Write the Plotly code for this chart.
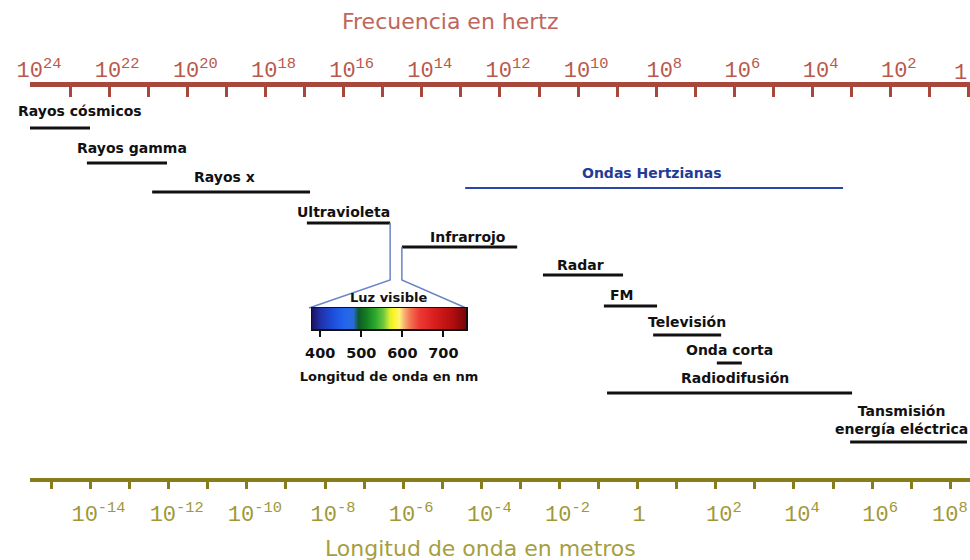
import numpy as np
import plotly.graph_objects as go

# ------------------------------------------------------------------ data
C_LIGHT = 2.998e8  # m/s

freq_tick_exp = list(range(24, -1, -1))                 # top axis: one tick per decade (Hz)
freq_label_exp = [24, 22, 20, 18, 16, 14, 12, 10, 8, 6, 4, 2, 0]
wl_tick_exp = list(range(-15, 9))                       # bottom axis: one tick per decade (m)
wl_label_exp = [-14, -12, -10, -8, -6, -4, -2, 0, 2, 4, 6, 8]

band_names = ["Rayos cósmicos", "Rayos gamma", "Rayos x", "Ultravioleta", "Infrarrojo",
              "Ondas Hertzianas", "Radar", "FM", "Televisión", "Onda corta",
              "Radiodifusión", "Tansmisión<br>energía eléctrica"]
# log10 of the frequency (Hz) at the high-frequency end and at the low-frequency end of each band
band_f_hi_exp = [24.03, 22.57, 20.90, 16.94, 14.51, 12.89, 10.90, 9.34, 8.08, 6.45, 9.26, 3.04]
band_f_lo_exp = [22.49, 20.52, 16.86, 14.81, 11.56, 3.22, 8.85, 7.98, 6.34, 5.81, 2.99, 0.05]

visible_nm = [380, 400, 430, 460, 480, 492, 510, 530, 552, 568, 578, 592, 604, 618, 640, 680, 720, 755]
visible_colors = ["#1c1462", "#2030a8", "#1d4fdc", "#2466ee", "#2a6ad8", "#0e5a2c", "#137a22",
                  "#29a42c", "#6cc83c", "#d8ec30", "#fbf51e", "#fff37a", "#f8ae72", "#f27250",
                  "#ec3a34", "#d81c1c", "#b20e0e", "#760808"]
visible_tick_nm = [400, 500, 600, 700]

# ------------------------------------------------------------------ layout / styling
W, H = 970, 560
PX_F24, PX_PER_DEC = 31.0, 39.08          # pixel of 10^24 Hz, pixels per decade
X_DOM_PX = (30.0, 970.0)                  # horizontal extent of the axes
Y_TOP_PX, Y_BOT_PX = 87.0, 478.0          # top (frequency) and bottom (wavelength) axis lines

def px_to_logf(px):
    return 24.0 - (px - PX_F24) / PX_PER_DEC

freq_range = [px_to_logf(X_DOM_PX[0]), px_to_logf(X_DOM_PX[1])]
wl_range = [float(np.log10(C_LIGHT)) - r for r in freq_range]
x_domain = [X_DOM_PX[0] / W, X_DOM_PX[1] / W]
y_domain = [1 - Y_BOT_PX / H, 1 - Y_TOP_PX / H]

band_level = [128, 163, 192, 223, 247, 188, 275, 306, 335, 363, 393, 442]
label_level = [111, 148, 177, 212, 237, 173, 265, 295, 322, 350, 378, 420]
label_shift = [20, 5, -7, -5, 8, -2, -3, -8, 0, 0, 5, -7]
band_color = ["#111111"] * 5 + ["#2a46a6"] + ["#111111"] * 6
label_color = ["#111111"] * 5 + ["#1f3c98"] + ["#111111"] * 6
band_width = [3] * 5 + [2] + [3] * 6

INSET_PX = (312, 466, 308, 329)            # x0, x1, y0, y1 of the visible-light bar
FUNNEL_ELBOW = 280
FUNNEL_COLOR = "#6a86c8"

TOP_COLOR_LINE, TOP_COLOR_TXT = "#a8473c", "#b8594c"
BOT_COLOR_LINE, BOT_COLOR_TXT = "#877c1c", "#a09838"
LBL_FONT = dict(family="DejaVu Sans", size=14, color="#111111", weight="bold")
TICK_FONT = "Liberation Mono"
TOP_LABEL_Y, BOT_LABEL_Y = 71, 513        # vertical centre of the edge tick labels

fig = go.Figure()

# ---- bands
for i, name in enumerate(band_names):
    fig.add_trace(go.Scatter(
        x=[10.0 ** band_f_hi_exp[i], 10.0 ** band_f_lo_exp[i]],
        y=[band_level[i], band_level[i]],
        mode="lines", line=dict(color=band_color[i], width=band_width[i]),
        xaxis="x", yaxis="y", hoverinfo="skip", showlegend=False))
    fig.add_annotation(
        x=(band_f_hi_exp[i] + band_f_lo_exp[i]) / 2, y=label_level[i], xref="x", yref="y",
        xshift=label_shift[i], text=name, showarrow=False, xanchor="center", yanchor="middle",
        font=dict(LBL_FONT, color=label_color[i]), align="center")

# ---- funnel from Ultravioleta / Infrarrojo to the visible bar
uv, ir = band_names.index("Ultravioleta"), band_names.index("Infrarrojo")
fig.add_trace(go.Scatter(
    x=[10.0 ** band_f_lo_exp[uv], 10.0 ** band_f_lo_exp[uv], 10.0 ** px_to_logf(INSET_PX[0] - 3)],
    y=[band_level[uv], FUNNEL_ELBOW, INSET_PX[2]],
    mode="lines", line=dict(color=FUNNEL_COLOR, width=1.5), hoverinfo="skip", showlegend=False))
fig.add_trace(go.Scatter(
    x=[10.0 ** band_f_hi_exp[ir], 10.0 ** band_f_hi_exp[ir], 10.0 ** px_to_logf(INSET_PX[1])],
    y=[band_level[ir], FUNNEL_ELBOW, INSET_PX[2]],
    mode="lines", line=dict(color=FUNNEL_COLOR, width=1.5), hoverinfo="skip", showlegend=False))

# ---- invisible trace so the wavelength axis is rendered
fig.add_trace(go.Scatter(x=[10.0 ** wl_label_exp[0]], y=[Y_BOT_PX], xaxis="x2", yaxis="y",
                         mode="markers", marker=dict(opacity=0), hoverinfo="skip", showlegend=False))

# ---- visible spectrum bar
lo, hi = visible_nm[0], visible_nm[-1]
cscale = [[(v - lo) / (hi - lo), c] for v, c in zip(visible_nm, visible_colors)]
fig.add_trace(go.Heatmap(z=[visible_nm], x=visible_nm, y=[0], colorscale=cscale, zmin=lo, zmax=hi,
                         zsmooth="best", showscale=False, xaxis="x3", yaxis="y3", hoverinfo="skip"))

# ---- axes (labels at the right edge are drawn as annotations so they stay inside the page)
def sci(e):
    return "1" if e == 0 else f"10<sup>{e}</sup>"

freq_edge, wl_edge = min(freq_label_exp), max(wl_label_exp)
freq_ticktext = [sci(e) if (e in freq_label_exp and e != freq_edge) else "" for e in freq_tick_exp]
wl_ticktext = [sci(e) if (e in wl_label_exp and e != wl_edge) else "" for e in wl_tick_exp]
wl_ticktext = [(t + "\u00a0") if t == "1" else t for t in wl_ticktext]

fig.update_layout(
    width=W, height=H, margin=dict(l=0, r=0, t=0, b=0),
    paper_bgcolor="white", plot_bgcolor="rgba(0,0,0,0)", showlegend=False,
    xaxis=dict(type="log", range=freq_range, domain=x_domain, anchor="y", side="top",
               showline=True, linecolor=TOP_COLOR_LINE, linewidth=5, showgrid=False, zeroline=False,
               tickmode="array", tickvals=[10.0 ** e for e in freq_tick_exp], ticktext=freq_ticktext,
               ticks="inside", ticklen=10, tickwidth=3, tickcolor=TOP_COLOR_LINE,
               tickfont=dict(family=TICK_FONT, size=22, color=TOP_COLOR_TXT),
               ticklabelshift=-8, ticklabelstandoff=-4, ticklabeloverflow="allow",
               automargin=False, fixedrange=True),
    xaxis2=dict(type="log", range=wl_range, domain=x_domain, anchor="y", side="bottom",
                overlaying="x", showline=True, linecolor=BOT_COLOR_LINE, linewidth=4,
                showgrid=False, zeroline=False,
                tickmode="array", tickvals=[10.0 ** e for e in wl_tick_exp], ticktext=wl_ticktext,
                ticks="outside", ticklen=7, tickwidth=3, tickcolor=BOT_COLOR_LINE,
                tickfont=dict(family=TICK_FONT, size=22, color=BOT_COLOR_TXT),
                ticklabelshift=8, ticklabelstandoff=6, ticklabeloverflow="allow",
                automargin=False, fixedrange=True),
    yaxis=dict(range=[Y_BOT_PX, Y_TOP_PX], domain=y_domain, showgrid=False, zeroline=False,
               showticklabels=False, showline=False, ticks="", fixedrange=True),
    xaxis3=dict(domain=[INSET_PX[0] / W, INSET_PX[1] / W], anchor="y3", range=[lo, hi],
                showline=True, mirror=True, linecolor="#111111", linewidth=1.5, showgrid=False,
                zeroline=False, tickmode="array", tickvals=visible_tick_nm,
                ticks="outside", ticklen=6, tickwidth=2, tickcolor="#111111",
                tickfont=dict(family="DejaVu Sans", size=14.5, color="#111111", weight="bold"),
                ticklabelstandoff=4,
                title=dict(text="Longitud de onda en nm", standoff=12,
                           font=dict(family="DejaVu Sans", size=13, color="#111111", weight="bold")),
                automargin=False, fixedrange=True),
    yaxis3=dict(domain=[1 - INSET_PX[3] / H, 1 - INSET_PX[2] / H], anchor="x3", range=[-0.5, 0.5],
                showline=True, mirror=True, linecolor="#111111", linewidth=1.5, showgrid=False,
                zeroline=False, showticklabels=False, ticks="", fixedrange=True),
)

# edge tick labels
fig.add_annotation(text=sci(freq_edge), xref="paper", yref="paper", x=1, y=1 - TOP_LABEL_Y / H,
                   xanchor="right", yanchor="middle", xshift=-1, yshift=-2, showarrow=False,
                   font=dict(family=TICK_FONT, size=22, color=TOP_COLOR_TXT))
fig.add_annotation(text=sci(wl_edge), xref="paper", yref="paper", x=1, y=1 - BOT_LABEL_Y / H,
                   xanchor="right", yanchor="middle", showarrow=False,
                   font=dict(family=TICK_FONT, size=22, color=BOT_COLOR_TXT))

fig.add_annotation(text="Luz visible", xref="x3", yref="y3 domain", x=(lo + hi) / 2, y=1,
                   yanchor="bottom", yshift=1, showarrow=False,
                   font=dict(family="DejaVu Sans", size=13, color="#111111", weight="bold"))
fig.add_annotation(text="Frecuencia en hertz", xref="paper", yref="paper", x=450 / W, y=1 - 22 / H,
                   xanchor="center", yanchor="middle", showarrow=False,
                   font=dict(family="DejaVu Sans", size=22, color="#c0665a"))
fig.add_annotation(text="Longitud de onda en metros", xref="paper", yref="paper", x=480 / W,
                   y=1 - 548 / H, xanchor="center", yanchor="middle", showarrow=False,
                   font=dict(family="DejaVu Sans", size=22, color="#a69e40"))

fig.write_html("out.html", config={"displayModeBar": False, "staticPlot": True},
               post_script="document.body.style.margin='0';document.body.style.overflow='hidden';")
